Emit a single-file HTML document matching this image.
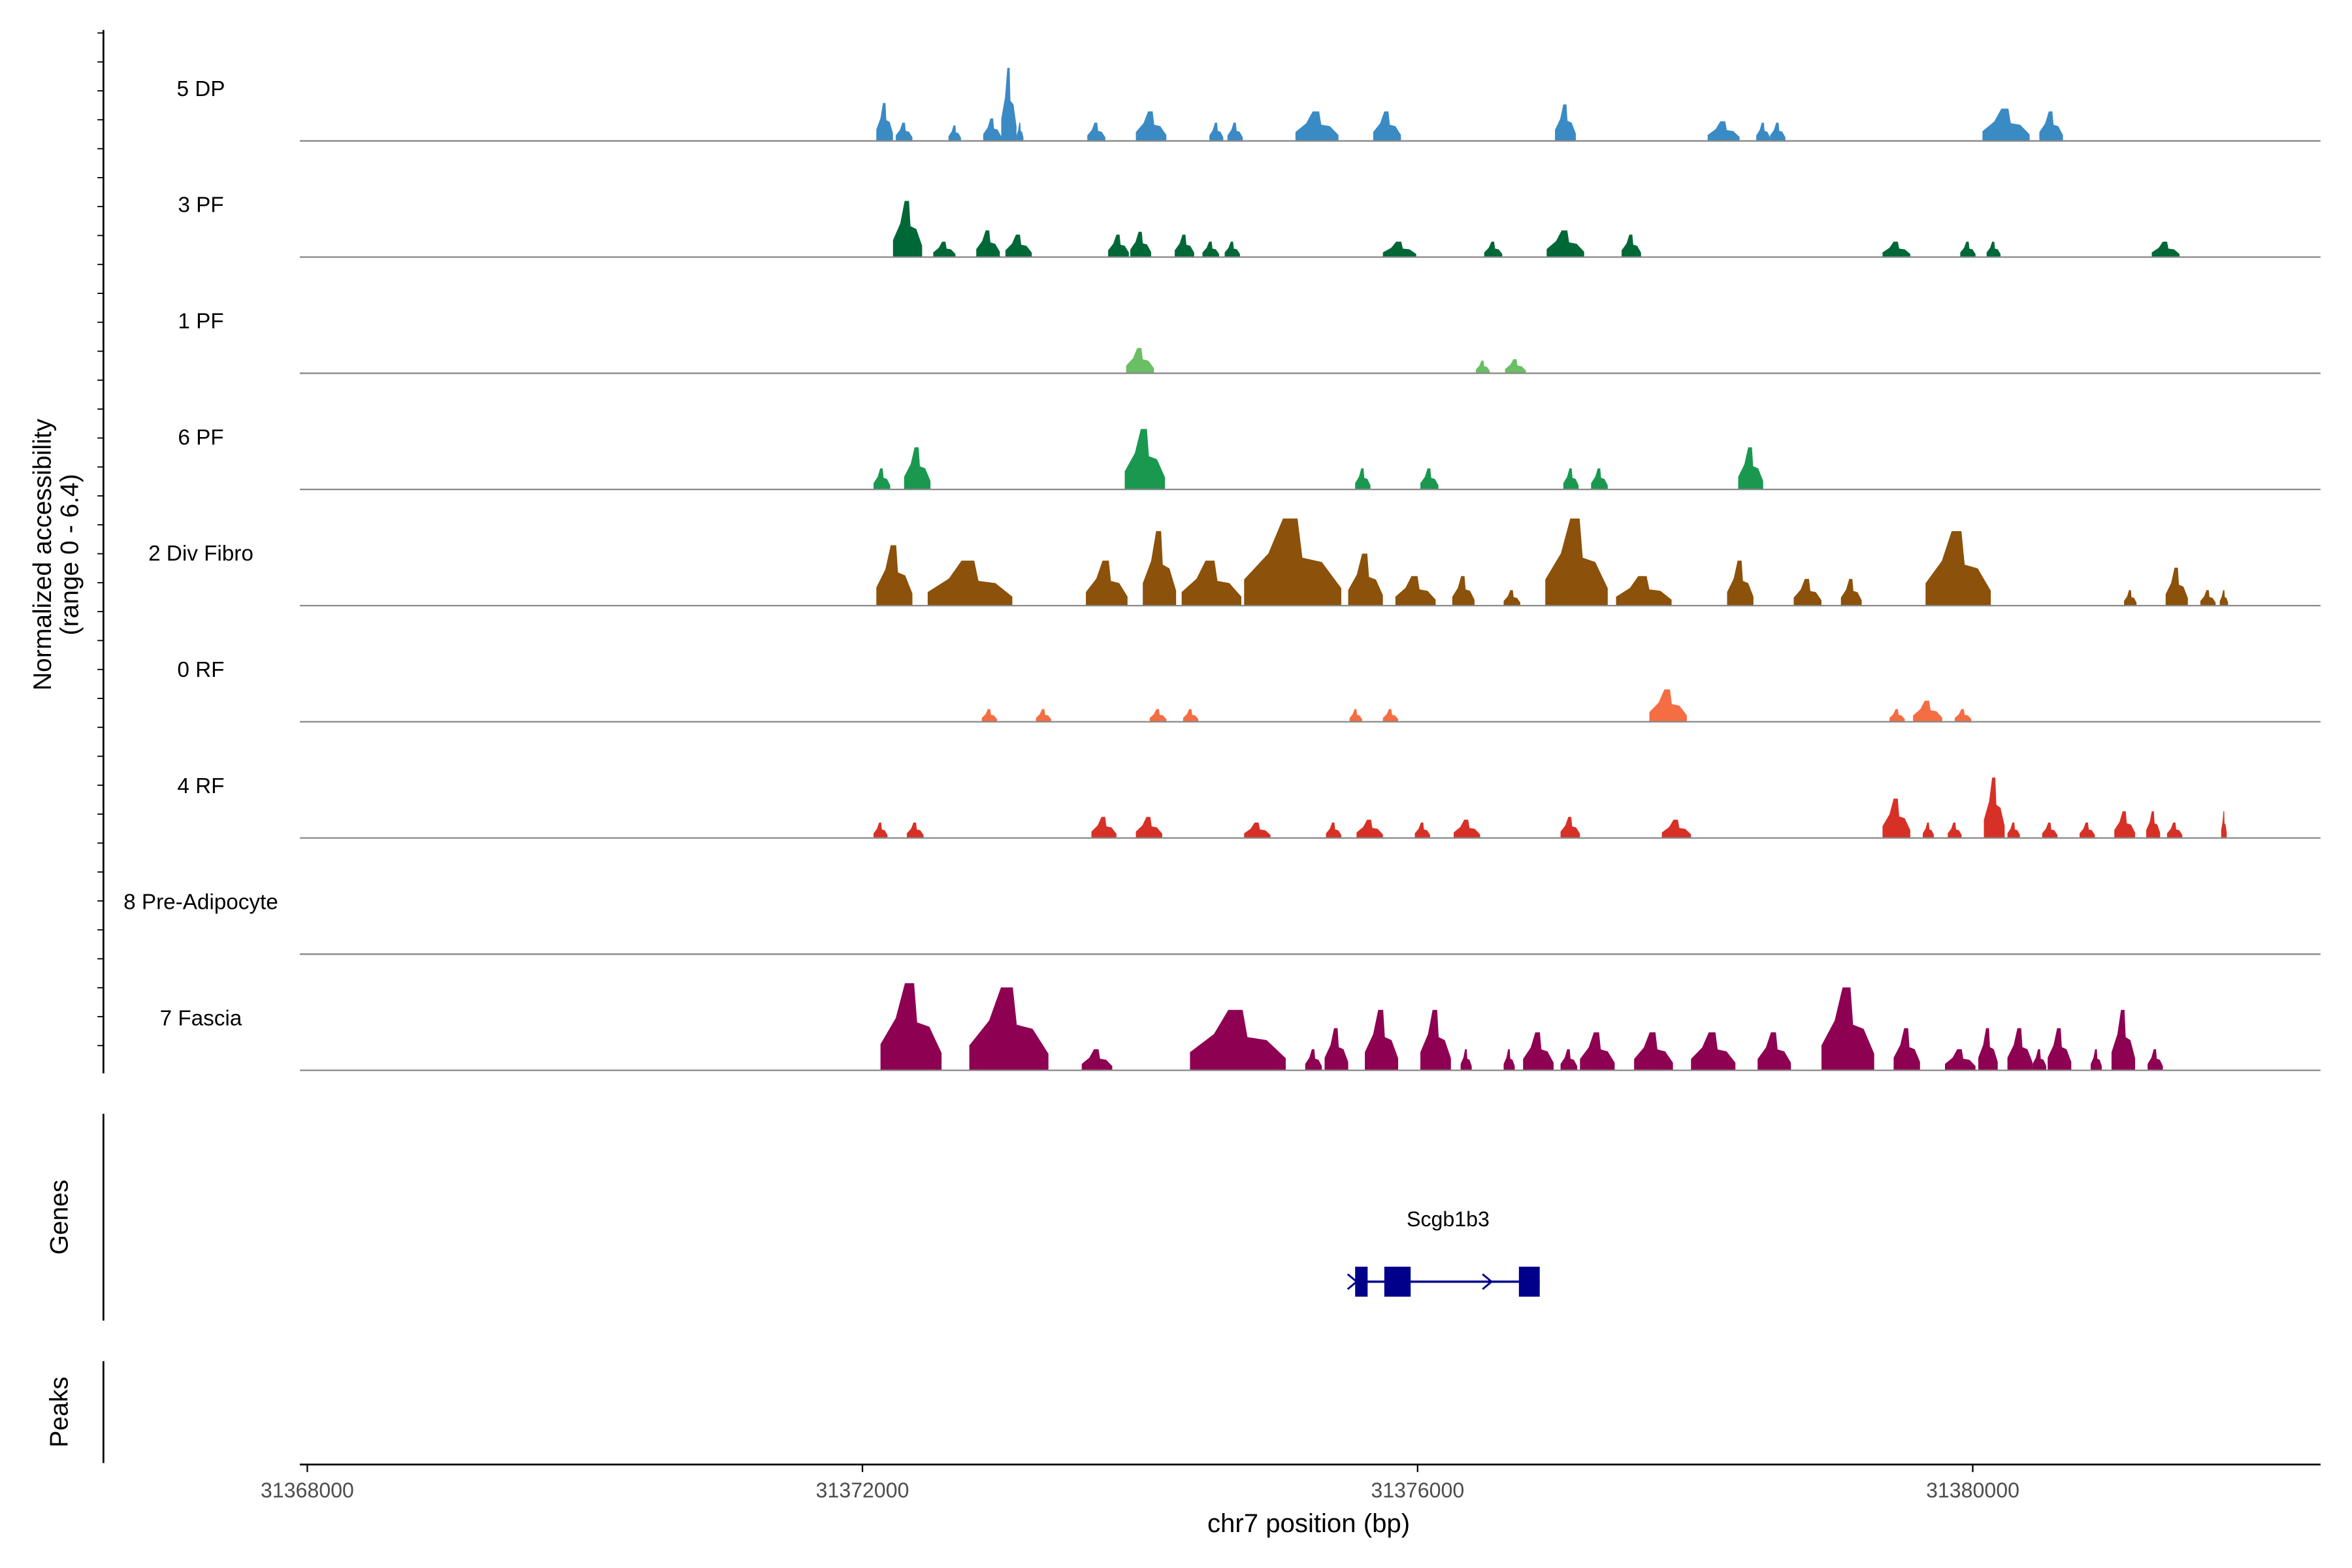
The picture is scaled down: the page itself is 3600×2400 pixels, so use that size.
<!DOCTYPE html>
<html><head><meta charset="utf-8"><style>
html,body{margin:0;padding:0;background:#fff}
svg{display:block}
text{font-family:"Liberation Sans",Arial,sans-serif;fill:#000}
</style></head><body>
<svg id="chart" xmlns="http://www.w3.org/2000/svg" width="3600" height="2400" viewBox="0 0 1569 1046" preserveAspectRatio="none">
<g id="tracks"></g>
<g id="axes"></g>
</svg>
<script>
// Genomic data (offsets in kb from 31368000, heights in normalized units)
const trackNames = ["5 DP","3 PF","1 PF","6 PF","2 Div Fibro","0 RF","4 RF","8 Pre-Adipocyte","7 Fascia"];
const trackColors = ["#3a8ac4","#006837","#6abe63","#1a9850","#8c510a","#f46d43","#d73027","#cccccc","#8e0152"];
const peaks0 = [[4.10,4.22,2.7],[4.24,4.36,1.3],[4.62,4.71,1.1],[4.87,5.00,1.6],[5.00,5.11,5.2],[5.11,5.16,1.3],[5.62,5.75,1.3],[5.97,6.19,2.1],[6.50,6.60,1.3],[6.63,6.74,1.3],[7.12,7.43,2.1],[7.68,7.88,2.1],[8.99,9.14,2.6],[10.09,10.32,1.4],[10.44,10.54,1.3],[10.54,10.65,1.3],[12.07,12.41,2.3],[12.48,12.65,2.1]];
const peaks1 = [[4.22,4.43,4.0],[4.51,4.67,1.1],[4.82,4.99,1.9],[5.03,5.22,1.6],[5.77,5.92,1.6],[5.93,6.08,1.8],[6.25,6.39,1.6],[6.45,6.57,1.1],[6.61,6.72,1.1],[7.75,7.99,1.1],[8.48,8.61,1.1],[8.93,9.20,1.9],[9.47,9.61,1.6],[11.35,11.55,1.1],[11.91,12.02,1.1],[12.10,12.20,1.1],[13.29,13.49,1.1]];
const peaks2 = [[5.90,6.10,1.8],[8.42,8.52,0.9],[8.63,8.78,1.0]];
const peaks3 = [[4.08,4.20,1.5],[4.30,4.49,3.0],[5.89,6.18,4.3],[7.55,7.66,1.5],[8.02,8.15,1.5],[9.05,9.16,1.5],[9.25,9.37,1.5],[10.31,10.49,3.0]];
const peaks4 = [[4.10,4.36,4.3],[4.47,5.08,3.2],[5.61,5.91,3.2],[6.02,6.26,5.3],[6.30,6.73,3.2],[6.75,7.45,6.2],[7.50,7.75,3.7],[7.84,8.13,2.1],[8.25,8.41,2.1],[8.62,8.74,1.1],[8.92,9.37,6.2],[9.43,9.83,2.1],[10.23,10.42,3.2],[10.71,10.91,1.9],[11.05,11.20,1.9],[11.66,12.13,5.3],[13.09,13.18,1.1],[13.39,13.55,2.7],[13.64,13.75,1.1],[13.78,13.84,1.1]];
const peaks5 = [[4.86,4.97,0.9],[5.25,5.36,0.9],[6.07,6.19,0.9],[6.31,6.42,0.9],[7.51,7.60,0.9],[7.75,7.86,0.9],[9.67,9.94,2.3],[11.40,11.51,0.9],[11.57,11.78,1.5],[11.87,11.99,0.9]];
const peaks6 = [[4.08,4.18,1.1],[4.32,4.44,1.1],[5.65,5.83,1.5],[5.97,6.16,1.5],[6.75,6.94,1.1],[7.34,7.45,1.1],[7.56,7.75,1.3],[7.98,8.09,1.1],[8.26,8.45,1.3],[9.03,9.17,1.5],[9.76,9.97,1.3],[11.35,11.55,2.8],[11.64,11.72,1.1],[11.82,11.92,1.1],[12.08,12.23,4.3],[12.25,12.34,1.1],[12.50,12.61,1.1],[12.77,12.88,1.1],[13.02,13.17,1.9],[13.25,13.35,1.9],[13.40,13.51,1.1],[13.79,13.83,1.9]];
const peaks7 = [];
const peaks8 = [[4.13,4.57,6.2],[4.77,5.34,5.9],[5.58,5.80,1.5],[6.36,7.05,4.3],[7.19,7.31,1.5],[7.33,7.50,3.0],[7.62,7.86,4.3],[8.02,8.24,4.3],[8.31,8.39,1.5],[8.62,8.70,1.5],[8.76,8.98,2.7],[9.03,9.15,1.5],[9.17,9.42,2.7],[9.56,9.84,2.7],[9.97,10.29,2.7],[10.45,10.69,2.7],[10.91,11.29,5.9],[11.43,11.62,3.0],[11.80,12.02,1.5],[12.04,12.18,3.0],[12.25,12.43,3.0],[12.43,12.53,1.5],[12.54,12.71,3.0],[12.85,12.93,1.5],[13.00,13.17,4.3],[13.26,13.37,1.5]];
const allPeaks = [peaks0,peaks1,peaks2,peaks3,peaks4,peaks5,peaks6,peaks7,peaks8];
const xTicks = [31368000,31372000,31376000,31380000];
const geneExons = [[7.55,7.64],[7.76,7.95],[8.73,8.88]];
const geneSpan = [7.55,8.88];

const NS="http://www.w3.org/2000/svg";
const X0=205, PXKB=1111/12;
function xs(kb){return X0+kb*PXKB;}
function xbp(bp){return xs((bp-31368000)/1000);}
const baseY0=94, trackStep=77.5, unitPx=60/6.4;
function ys(i,v){return baseY0+i*trackStep - v*unitPx;}
function mk(tag,attrs,parent){const e=document.createElementNS(NS,tag);for(const k in attrs)e.setAttribute(k,attrs[k]);parent.appendChild(e);return e;}
const tracks=document.getElementById('tracks'), axes=document.getElementById('axes');

allPeaks.forEach((pk,i)=>{
  const g=mk('g',{},tracks);
  
  
  const by=ys(i,0);
  const lab=mk('text',{x:134,y:by-30,'font-size':14.5,'text-anchor':'middle'},g);
  lab.textContent=trackNames[i];
  
  
  pk.forEach(p=>{
    const s=xs(p[0]), e=xs(p[1]), w=e-s, t=ys(i,p[2]);
    const pts=[[s,by],[s,ys(i,p[2]*0.3)],[s+w*0.25,ys(i,p[2]*0.6)],[s+w*0.4,t],[s+w*0.55,t],[s+w*0.6,ys(i,p[2]*0.55)],[s+w*0.8,ys(i,p[2]*0.5)],[e,ys(i,p[2]*0.2)],[e,by]];
    const poly=mk('polygon',{points:pts.map(q=>q.join(',')).join(' '),fill:trackColors[i]},g);
    
    
  });
  const bl=mk('line',{x1:200,x2:1548,y1:by,y2:by,stroke:'#888','stroke-width':1},g);
  
  
});

// left axis
const la=mk('line',{x1:69,x2:69,y1:20,y2:716,stroke:'#000','stroke-width':1.2},axes);


for(let y=22;y<716;y+=19.3){mk('line',{x1:65,x2:69,y1:y,y2:y,stroke:'#000','stroke-width':0.8},axes);}
const yt=mk('text',{transform:'translate(34,370) rotate(-90)','font-size':17,'text-anchor':'middle'},axes);


yt.innerHTML='<tspan x="0" dy="0">Normalized accessibility</tspan><tspan x="0" dy="18">(range 0 - 6.4)</tspan>';

// genes
const gl=mk('line',{x1:69,x2:69,y1:743,y2:881,stroke:'#000','stroke-width':1.2},axes);


const gt=mk('text',{transform:'translate(45,812) rotate(-90)','font-size':17,'text-anchor':'middle'},axes);
gt.textContent='Genes';


const gg=mk('g',{},axes);


mk('line',{x1:xs(geneSpan[0]),x2:xs(geneSpan[1]),y1:855,y2:855,stroke:'#00008b','stroke-width':1.5},gg);
geneExons.forEach(ex=>{mk('rect',{x:xs(ex[0]),y:845,width:xs(ex[1])-xs(ex[0]),height:20,fill:'#00008b'},gg);});
mk('path',{d:'M899,850 L905,855 L899,860 M989,850 L995,855 L989,860',stroke:'#00008b','stroke-width':1.3,fill:'none'},gg);
const gn=mk('text',{x:966,y:818,'font-size':14,'text-anchor':'middle'},gg);
gn.textContent='Scgb1b3';

// peaks
const pl=mk('line',{x1:69,x2:69,y1:908,y2:976,stroke:'#000','stroke-width':1.2},axes);


const pt=mk('text',{transform:'translate(45,942) rotate(-90)','font-size':17,'text-anchor':'middle'},axes);
pt.textContent='Peaks';



// x axis
const xa=mk('line',{x1:200,x2:1548,y1:977,y2:977,stroke:'#000','stroke-width':1.2},axes);


xTicks.forEach(t=>{
  const x=xbp(t);
  mk('line',{x1:x,x2:x,y1:977,y2:982,stroke:'#000','stroke-width':1},axes);
  const tl=mk('text',{x:x,y:999,'font-size':14,'text-anchor':'middle',style:'fill:#4d4d4d'},axes);
  tl.textContent=t;
  
  
});
const xt=mk('text',{x:873,y:1022,'font-size':17.5,'text-anchor':'middle'},axes);
xt.textContent='chr7 position (bp)';


</script>
</body></html>
